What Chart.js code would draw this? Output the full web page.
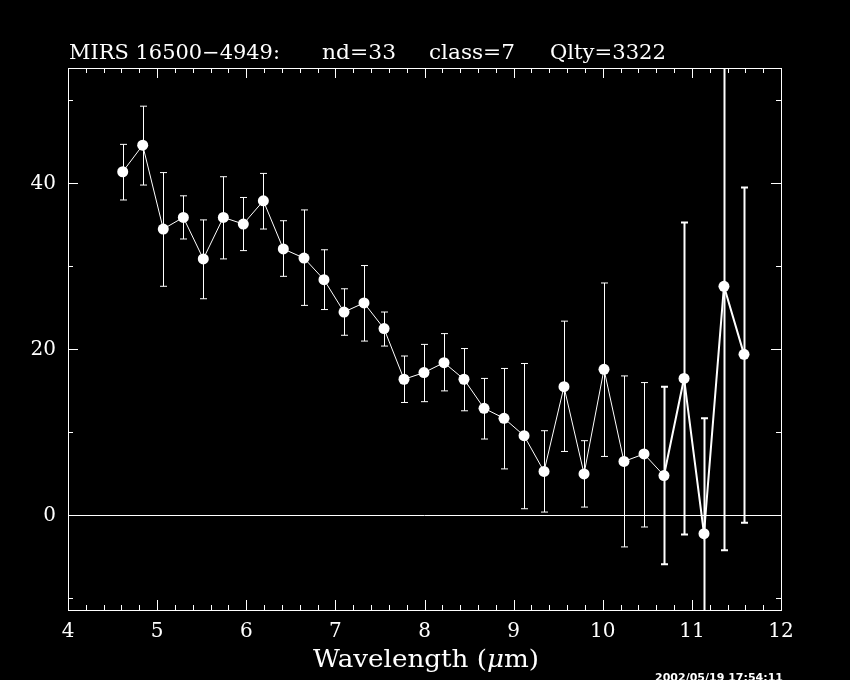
<!DOCTYPE html>
<html>
<head>
<meta charset="utf-8">
<script src="https://cdn.jsdelivr.net/npm/chart.js@4.4.1/dist/chart.umd.min.js"></script>
<style>
html, body { margin: 0; padding: 0; background: #000; }
#wrap { width: 850px; height: 680px; }
</style>
</head>
<body>
<div id="wrap"><canvas id="myChart" width="850" height="680"></canvas></div>
<script>
// spectrum values
const wavelength = [4.614, 4.838, 5.069, 5.294, 5.518, 5.743, 5.967, 6.192, 6.416, 6.648,
                    6.872, 7.097, 7.321, 7.546, 7.770, 7.994, 8.219, 8.443, 8.668, 8.892,
                    9.117, 9.341, 9.565, 9.790, 10.014, 10.238, 10.463, 10.687, 10.912, 11.136,
                    11.360, 11.585]
const flux = [41.4, 44.6, 34.5, 35.9, 30.9, 35.9, 35.1, 37.9, 32.1, 31.0,
              28.4, 24.5, 25.6, 22.5, 16.4, 17.2, 18.4, 16.4, 12.9, 11.7,
              9.6, 5.3, 15.5, 5.0, 17.6, 6.5, 7.4, 4.8, 16.5, -2.2,
              27.6, 19.4]
const errHigh = [44.7, 49.3, 41.3, 38.5, 35.6, 40.8, 38.3, 41.2, 35.5, 36.8,
                 32.0, 27.3, 30.1, 24.5, 19.2, 20.6, 21.9, 20.1, 16.5, 17.7,
                 18.3, 10.2, 23.4, 9.0, 28.0, 16.8, 16.0, 15.5, 35.3, 11.7,
                 56.0, 39.5]
const errLow = [38.0, 39.8, 27.6, 33.3, 26.1, 30.9, 31.9, 34.5, 28.8, 25.3,
                24.8, 21.7, 21.0, 20.4, 13.6, 13.7, 15.0, 12.6, 9.2, 5.6,
                0.8, 0.4, 7.7, 1.0, 7.1, -3.8, -1.4, -5.9, -2.3, -14.0,
                -4.2, -0.9]
const xTicks = [4, 5, 6, 7, 8, 9, 10, 11, 12]
const yTicks = [0, 20, 40]
const titleParts = ['MIRS 16500\u22124949:', 'nd=33', 'class=7', 'Qlty=3322']
const stamp = '2002/05/19 17:54:11'

const SERIF = '"DejaVu Serif", "Liberation Serif", serif'
const THICK_FROM = 27

// draws text pieces squeezed/stretched to a given width
function fitText(ctx, parts, x, y, width) {
    let total = 0
    parts.forEach(p => { ctx.font = p.font; total += ctx.measureText(p.t).width })
    ctx.save()
    ctx.translate(x, y)
    ctx.scale(width / total, 1)
    let cx = 0
    parts.forEach(p => {
        ctx.font = p.font
        ctx.fillText(p.t, cx, 0)
        cx += ctx.measureText(p.t).width
    })
    ctx.restore()
}

const framePlugin = {
    id: 'frame',
    beforeDatasetsDraw(chart) {
        const ctx = chart.ctx
        const xs = chart.scales.x, ys = chart.scales.y
        const a = chart.chartArea
        ctx.save()
        ctx.beginPath()
        ctx.rect(a.left, a.top, a.right - a.left + 1, a.bottom - a.top + 1)
        ctx.clip()
        ctx.strokeStyle = '#fff'
        // zero line
        let y0 = Math.round(ys.getPixelForValue(0)) + 0.5
        ctx.lineWidth = 1
        ctx.beginPath(); ctx.moveTo(a.left, y0); ctx.lineTo(a.right, y0); ctx.stroke()
        // error bars
        for (let i = 0; i < wavelength.length; i++) {
            let px = Math.round(xs.getPixelForValue(wavelength[i])) + 0.5
            let top = ys.getPixelForValue(errHigh[i])
            let bot = ys.getPixelForValue(errLow[i])
            ctx.lineWidth = i >= THICK_FROM ? 2 : 1
            ctx.beginPath()
            ctx.moveTo(px, top); ctx.lineTo(px, bot)
            ctx.moveTo(px - 3.5, top); ctx.lineTo(px + 3.5, top)
            ctx.moveTo(px - 3.5, bot); ctx.lineTo(px + 3.5, bot)
            ctx.stroke()
        }
        ctx.restore()
    },
    afterDraw(chart) {
        const ctx = chart.ctx
        const xs = chart.scales.x, ys = chart.scales.y
        const a = chart.chartArea
        ctx.save()
        ctx.strokeStyle = '#fff'
        ctx.lineWidth = 1
        ctx.strokeRect(a.left + 0.5, a.top + 0.5, a.right - a.left, a.bottom - a.top)
        ctx.beginPath()
        for (let k = 0; k <= 40; k++) {
            let v = 4 + k * 0.2
            let px = Math.round(xs.getPixelForValue(v)) + 0.5
            let len = k % 5 === 0 ? 10 : 5
            ctx.moveTo(px, a.bottom); ctx.lineTo(px, a.bottom - len)
            ctx.moveTo(px, a.top); ctx.lineTo(px, a.top + len)
        }
        for (let v = -10; v <= 50; v += 10) {
            let py = Math.round(ys.getPixelForValue(v)) + 0.5
            let len = v % 20 === 0 ? 10 : 5
            ctx.moveTo(a.left, py); ctx.lineTo(a.left + len, py)
            ctx.moveTo(a.right, py); ctx.lineTo(a.right - len, py)
        }
        ctx.stroke()

        ctx.fillStyle = '#fff'
        ctx.textBaseline = 'alphabetic'
        const tf = '20px ' + SERIF
        fitText(ctx, [{ t: titleParts[0], font: tf }], 69, 59, 211)
        fitText(ctx, [{ t: titleParts[1], font: tf }], 322, 59, 74)
        fitText(ctx, [{ t: titleParts[2], font: tf }], 429, 59, 86)
        fitText(ctx, [{ t: titleParts[3], font: tf }], 550, 59, 116)

        const lf = '24px ' + SERIF
        fitText(ctx, [
            { t: 'Wavelength (', font: lf },
            { t: '\u03bc', font: 'italic 24px ' + SERIF },
            { t: 'm)', font: lf }
        ], 313, 667, 226)

        ctx.textBaseline = 'top'
        fitText(ctx, [{ t: stamp, font: 'bold 11px "DejaVu Sans", sans-serif' }], 655, 673, 128)
        ctx.restore()
    }
}

const ctx = document.getElementById('myChart')
new Chart(ctx, {
    type: 'scatter',
    data: {
        datasets: [{
            data: wavelength.map((x, i) => ({ x: x, y: flux[i] })),
            showLine: true,
            borderColor: '#fff',
            borderWidth: 1,
            backgroundColor: '#fff',
            pointBackgroundColor: '#fff',
            pointBorderColor: '#fff',
            pointBorderWidth: 0,
            pointRadius: 5.5,
            segment: {
                borderWidth: c => c.p0DataIndex >= THICK_FROM ? 2 : 1
            },
            clip: false
        }]
    },
    options: {
        responsive: false,
        animation: false,
        devicePixelRatio: 1,
        layout: { padding: { top: 68, right: 69, left: 0, bottom: 0 } },
        plugins: {
            legend: { display: false },
            title: { display: false },
            tooltip: { enabled: false }
        },
        scales: {
            x: {
                type: 'linear',
                min: 4,
                max: 12,
                afterFit: s => { s.height = 70 },
                afterBuildTicks: s => { s.ticks = xTicks.map(v => ({ value: v })) },
                grid: { display: false, drawTicks: false },
                border: { display: false },
                ticks: {
                    color: '#fff',
                    font: { family: SERIF, size: 20 },
                    padding: 10,
                    maxRotation: 0,
                    autoSkip: false
                }
            },
            y: {
                min: -11.4,
                max: 53.9,
                afterFit: s => { s.width = 68 },
                afterBuildTicks: s => { s.ticks = yTicks.map(v => ({ value: v })) },
                grid: { display: false, drawTicks: false },
                border: { display: false },
                ticks: {
                    color: '#fff',
                    font: { family: SERIF, size: 20 },
                    padding: 12
                }
            }
        }
    },
    plugins: [framePlugin]
})
</script>
</body>
</html>
